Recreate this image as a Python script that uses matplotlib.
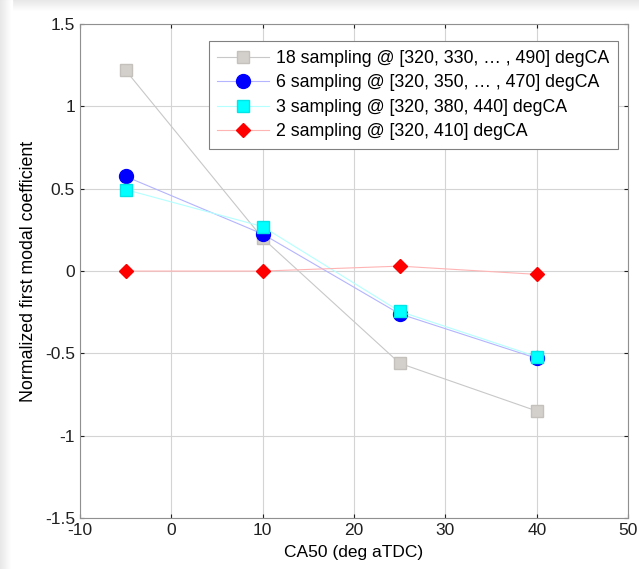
import matplotlib
matplotlib.use('Agg')
import matplotlib.pyplot as plt
from matplotlib.patches import Rectangle

plt.rcParams['font.family'] = ['Liberation Sans', 'DejaVu Sans']
plt.rcParams['axes.unicode_minus'] = False

ca50 = [-5, 10, 25, 40]
s18 = [1.22, 0.20, -0.56, -0.85]
s6 = [0.575, 0.225, -0.26, -0.53]
s3 = [0.495, 0.27, -0.245, -0.52]
s2 = [0.0, 0.0, 0.03, -0.02]

labels = ['18 sampling @ [320, 330, \u2026 , 490] degCA',
          '6 sampling @ [320, 350, \u2026 , 470] degCA',
          '3 sampling @ [320, 380, 440] degCA',
          '2 sampling @ [320, 410] degCA']

fig = plt.figure(figsize=(6.39, 5.69), dpi=100)

# light shadow at the left and top edges, like the screenshot
for i in range(12):
    g = 0.91 + 0.09 * i / 11
    fig.patches.append(Rectangle((i / 639, 0), 1 / 639, 1, transform=fig.transFigure,
                                 color=(g, g, g), zorder=0))
    fig.patches.append(Rectangle((i / 639, 1 - (i + 1) / 569), 1, 1 / 569,
                                 transform=fig.transFigure, color=(g, g, g), zorder=0))

ax = fig.add_axes([0.125, 0.0896, 0.858, 0.868])

ax.plot(ca50, s18, color='#c8c8c8', lw=0.8, marker='s', ms=8.6,
        mfc='#d3cfca', mec='#c4c0bb', label=labels[0])
ax.plot(ca50, s6, color='#b4b4ff', lw=0.8, marker='o', ms=10,
        mfc='#0000ff', mec='#0000ff', label=labels[1])
ax.plot(ca50, s3, color='#b4ffff', lw=0.8, marker='s', ms=8.6,
        mfc='#00ffff', mec='#00e6e6', label=labels[2])
ax.plot(ca50, s2, color='#ffb4b4', lw=0.8, marker='D', ms=7,
        mfc='#ff0000', mec='#ff0000', label=labels[3])

ax.set_xlim(-10, 50)
ax.set_ylim(-1.5, 1.5)
ax.set_xticks(range(-10, 51, 10))
ax.set_yticks([-1.5, -1, -0.5, 0, 0.5, 1, 1.5])
ax.set_yticklabels(['-1.5', '-1', '-0.5', '0', '0.5', '1', '1.5'])
ax.grid(True, color='#d4d4d4', lw=0.8)
ax.set_axisbelow(True)
ax.tick_params(direction='in', length=3, labelsize=12.5, colors='#202020',
               top=True, right=True)
for sp in ax.spines.values():
    sp.set_color('#909090')

ax.set_xlabel('CA50 (deg aTDC)', fontsize=12.5, labelpad=5)
ax.set_ylabel('Normalized first modal coefficient', fontsize=12.8, labelpad=6)

leg = ax.legend(loc='upper right', bbox_to_anchor=(0.982, 0.9656), fontsize=12.8,
                borderaxespad=0, handlelength=2.9, handletextpad=0.4,
                borderpad=0.5, labelspacing=0.42,
                fancybox=False, framealpha=1, edgecolor='#808080')
leg.get_frame().set_linewidth(0.8)

fig.savefig('out.png', dpi=100)
